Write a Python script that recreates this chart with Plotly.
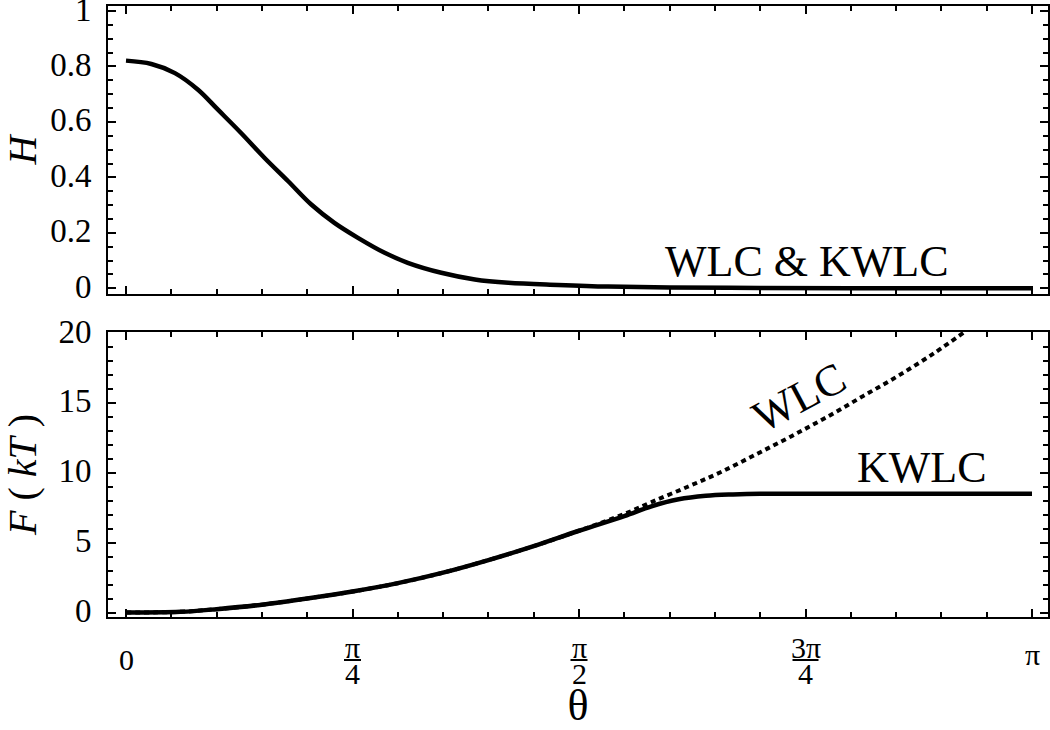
import numpy as np
import plotly.graph_objects as go

# ---------------- data (theta in units of pi) ----------------
theta_H_pi = [0, 0.028, 0.054, 0.0795, 0.1015, 0.127, 0.153, 0.179, 0.2045, 0.230,
              0.256, 0.2855, 0.311, 0.348, 0.385, 0.422, 0.477, 0.532, 0.60, 0.70,
              0.80, 0.90, 1.0]
H_vals = [0.821, 0.809, 0.776, 0.716, 0.644, 0.560, 0.470, 0.386, 0.302, 0.236,
          0.182, 0.128, 0.092, 0.056, 0.032, 0.020, 0.012, 0.006, 0.003, 0.001,
          0.0, 0.0, 0.0]

theta_KWLC_pi = [0, 0.06, 0.10, 0.15, 0.20, 0.25, 0.30, 0.35, 0.40, 0.45, 0.50,
                 0.55, 0.58, 0.61, 0.64, 0.67, 0.70, 0.75, 0.85, 1.0]
F_KWLC = [0, 0.05, 0.24, 0.56, 1.0, 1.5, 2.1, 2.85, 3.75, 4.75, 5.85,
          6.9, 7.6, 8.1, 8.35, 8.45, 8.5, 8.5, 8.5, 8.5]

theta_WLC_pi = [0, 0.06, 0.10, 0.15, 0.20, 0.25, 0.30, 0.35, 0.40, 0.45, 0.50,
                0.55, 0.58, 0.62, 0.655, 0.695, 0.734, 0.774, 0.814, 0.854,
                0.893, 0.925]
F_WLC = [0, 0.05, 0.24, 0.56, 1.0, 1.5, 2.1, 2.85, 3.75, 4.75, 5.85,
         7.05, 7.9, 9.0, 10.0, 11.3, 12.6, 14.0, 15.5, 17.0, 18.6, 20.05]

x_tick_pi = [0, 0.25, 0.5, 0.75, 1.0]
x_tick_labels = ["0", "π/4", "π/2", "3π/4", "π"]
H_ticks = [0, 0.2, 0.4, 0.6, 0.8, 1]
F_ticks = [0, 5, 10, 15, 20]

# ---------------- figure ----------------
PI = np.pi
th_H = np.array(theta_H_pi) * PI
th_K = np.array(theta_KWLC_pi) * PI
th_W = np.array(theta_WLC_pi) * PI
x_major = [v * PI for v in x_tick_pi]
x_minor = [k * PI / 20 for k in range(21)]

FONT = "Liberation Serif"
fig = go.Figure()
fig.add_trace(go.Scatter(x=th_H, y=H_vals, mode="lines", line=dict(color="black", width=4.5, shape="spline"),
                         xaxis="x", yaxis="y", showlegend=False))
fig.add_trace(go.Scatter(x=th_W, y=F_WLC, mode="lines", line=dict(color="black", width=4, dash="5px,4px", shape="spline"),
                         xaxis="x2", yaxis="y2", showlegend=False))
fig.add_trace(go.Scatter(x=th_K, y=F_KWLC, mode="lines", line=dict(color="black", width=4.5, shape="spline"),
                         xaxis="x2", yaxis="y2", showlegend=False))

xr = [-18 / 906 * PI, (1048 - 126) / 906 * PI]
common_x = dict(range=xr, showline=True, linecolor="black", linewidth=2, mirror="ticks",
                ticks="inside", ticklen=8, tickwidth=2, tickcolor="black", automargin=False,
                tickvals=x_major, showticklabels=False, showgrid=False, zeroline=False,
                minor=dict(tickvals=x_minor, ticks="inside", ticklen=5, tickwidth=1.5, tickcolor="black", showgrid=False))
common_y = dict(showline=True, linecolor="black", linewidth=2, mirror="ticks", automargin=False,
                ticks="inside", ticklen=8, tickwidth=2, tickcolor="black", ticklabeloverflow="allow",
                showgrid=False, zeroline=False, tickfont=dict(size=33, family=FONT, color="black"),
                ticklabelstandoff=8, ticklabelshift=-2)

plot_top, plot_bot = 6, 617
ph = plot_bot - plot_top
fig.update_layout(
    width=1050, height=730, paper_bgcolor="white", plot_bgcolor="white",
    margin=dict(l=108, r=2, t=plot_top, b=730 - plot_bot, autoexpand=False),
    font=dict(family=FONT, color="black"),
    xaxis=dict(domain=[0, 1], anchor="y", **common_x),
    xaxis2=dict(domain=[0, 1], anchor="y2", **common_x,
                title=dict(text="θ", font=dict(size=44, family=FONT), standoff=73)),
    yaxis=dict(domain=[(plot_bot - 294) / ph, 1], anchor="x", range=[-0.0206, 1.018],
               tickvals=H_ticks, minor=dict(dtick=0.05, tick0=0, ticks="inside", ticklen=5, tickwidth=1.5, tickcolor="black"),
               title=dict(text="<i>H</i>", font=dict(size=40, family=FONT), standoff=18), **common_y),
    yaxis2=dict(domain=[0, (plot_bot - 332) / ph], anchor="x2", range=[-0.32, 20.07],
                tickvals=F_ticks, minor=dict(dtick=1, tick0=0, ticks="inside", ticklen=5, tickwidth=1.5, tickcolor="black"),
                title=dict(text="<i>F</i> ( <i>kT</i> )", font=dict(size=40, family=FONT), standoff=26), **common_y),
)

# x tick labels (fractions of pi)
def paper_y(py):
    return (plot_bot - py) / ph

for v, lab in zip(x_major, x_tick_labels):
    if "/" in lab:
        num, den = lab.split("/")
        fig.add_annotation(x=v, xref="x2", y=paper_y(647), yref="paper", yanchor="middle",
                           text=num, showarrow=False, font=dict(size=30, family=FONT))
        fig.add_annotation(x=v, xref="x2", y=paper_y(673), yref="paper", yanchor="middle",
                           text=den, showarrow=False, font=dict(size=30, family=FONT))
        w = 8 + 9 * len(num)
        fig.add_shape(type="line", xref="x2", xsizemode="pixel", xanchor=v, x0=-w / 2, x1=w / 2,
                      yref="paper", y0=paper_y(660), y1=paper_y(660), line=dict(color="black", width=2))
    else:
        py = 659 if lab == "0" else 655
        fig.add_annotation(x=v, xref="x2", y=paper_y(py), yref="paper", yanchor="middle",
                           text=lab, showarrow=False, font=dict(size=30, family=FONT))

# curve labels
fig.add_annotation(x=0.7517 * PI, y=0.095, xref="x", yref="y", text="WLC &amp; KWLC", showarrow=False,
                   font=dict(size=44, family=FONT))
fig.add_annotation(x=0.8786 * PI, y=10.41, xref="x2", yref="y2", text="KWLC", showarrow=False,
                   font=dict(size=44, family=FONT))
fig.add_annotation(x=0.743 * PI, y=15.42, xref="x2", yref="y2", text="WLC", showarrow=False,
                   textangle=-28, font=dict(size=44, family=FONT))

fig.write_html("out.html", config={"displayModeBar": False},
               post_script="document.body.style.margin='0';document.body.style.overflow='hidden';")
